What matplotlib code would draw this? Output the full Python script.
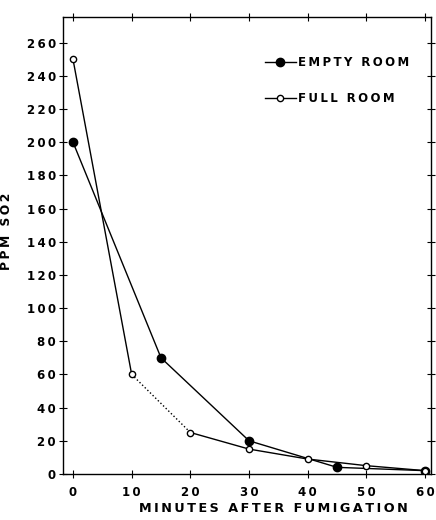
import matplotlib.pyplot as plt
from matplotlib.lines import Line2D

# Data
empty_min = [0, 15, 30, 45, 60]
empty_ppm = [200, 70, 20, 4, 2]
full_min = [0, 10, 20, 30, 40, 50, 60]
full_ppm = [250, 60, 25, 15, 9, 5, 2]

plt.rcParams['font.family'] = ['DejaVu Sans']
plt.rcParams['font.weight'] = 'bold'


def spaced(s):
    # wide letter spacing like the typewriter-style original
    return '\u2009'.join(s)


fig = plt.figure(figsize=(4.36, 5.2), dpi=100)
ax = fig.add_axes([0.1445, 0.0885, 0.844, 0.879])

ax.plot(empty_min, empty_ppm, color='black', lw=1.0, marker='o', markersize=6,
        markerfacecolor='black', zorder=3)

# full room: solid except the 10-20 segment, which is dotted
ax.plot(full_min[:2], full_ppm[:2], color='black', lw=1.0, zorder=2)
ax.plot(full_min[1:3], full_ppm[1:3], color='black', lw=1.0, ls=':', zorder=2)
ax.plot(full_min[2:], full_ppm[2:], color='black', lw=1.0, zorder=2)
ax.plot(full_min, full_ppm, ls='none', marker='o', markersize=4.5,
        markerfacecolor='white', markeredgecolor='black', markeredgewidth=1.0, zorder=4)

ax.set_xlim(-1.7, 61)
ax.set_ylim(0, 275.5)
ax.set_xticks(range(0, 61, 10))
ax.set_yticks(range(0, 261, 20))
ax.set_xticklabels([spaced(str(v)) for v in range(0, 61, 10)])
ax.set_yticklabels([spaced(str(v)) for v in range(0, 261, 20)])
ax.tick_params(direction='inout', length=6, width=0.8, top=True, right=True,
               labelsize=8.5, pad=2)
ax.tick_params(axis='x', pad=6)

ax.set_xlabel(spaced('MINUTES AFTER FUMIGATION'), fontsize=9.2, fontweight='bold')
ax.xaxis.set_label_coords(0.573, -0.062)
ax.set_ylabel(spaced('PPM SO2'), fontsize=8.8, fontweight='bold')
ax.yaxis.set_label_coords(-0.135, 0.53)

handles = [
    Line2D([], [], color='black', lw=1.0, marker='o', markersize=6, markerfacecolor='black'),
    Line2D([], [], color='black', lw=1.0, marker='o', markersize=4.5,
           markerfacecolor='white', markeredgecolor='black'),
]
ax.legend(handles, [spaced('EMPTY ROOM'), spaced('FULL ROOM')], loc='upper left',
          bbox_to_anchor=(0.52, 0.938), frameon=False, handlelength=2.6,
          handletextpad=0.2, labelspacing=2.0, prop={'size': 8.5, 'weight': 'bold'})

for s in ax.spines.values():
    s.set_linewidth(1.0)

fig.savefig('out.png', dpi=100)
